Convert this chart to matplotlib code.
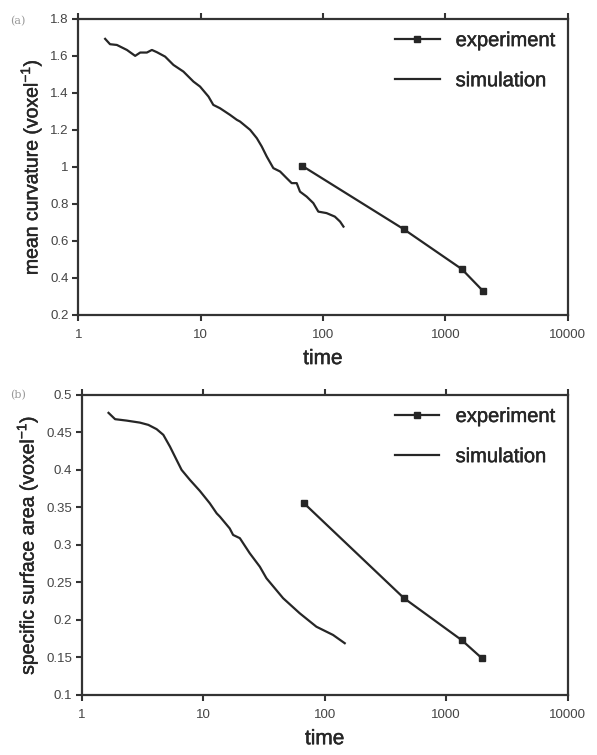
import matplotlib
matplotlib.use("Agg")
import matplotlib.pyplot as plt
import matplotlib.patheffects as pe
from matplotlib.ticker import FixedLocator, NullLocator

plt.rcParams['font.family'] = ['Liberation Sans', 'DejaVu Sans']

# (a) mean curvature
exp_t = [67, 457, 1364, 2023]
exp_curv = [1.007, 0.663, 0.447, 0.33]
sim_t_a = [1.66, 1.82, 2.07, 2.5, 2.92, 3.21, 3.64, 4.0, 4.39, 5.13, 6.0, 7.24, 8.74, 9.9,
           11.6, 12.7, 14.4, 17.4, 19.8, 21, 25.4, 28.8, 31.6, 34.7, 39.3, 44.6, 50.5, 55.5,
           61, 64.9, 73.6, 83.4, 91.6, 107, 125, 138, 147]
sim_curv = [1.692, 1.663, 1.659, 1.632, 1.60, 1.618, 1.618, 1.632, 1.62, 1.596, 1.551, 1.515,
            1.461, 1.434, 1.38, 1.335, 1.317, 1.281, 1.254, 1.245, 1.2, 1.155, 1.110, 1.056,
            0.993, 0.975, 0.939, 0.912, 0.912, 0.866, 0.839, 0.804, 0.758, 0.75, 0.731,
            0.704, 0.677]

# (b) specific surface area
exp_t_b = [67, 449, 1343, 1964]
exp_ssa = [0.356, 0.229, 0.173, 0.149]
sim_t_b = [1.66, 1.88, 2.34, 3.01, 3.53, 4.13, 4.69, 5.32, 6.03, 6.63, 7.76, 9.37, 11.3,
           12.9, 13.7, 16.5, 17.6, 20, 24.1, 29.2, 33.1, 45.4, 62.2, 85.3, 117, 146]
sim_ssa = [0.476, 0.4676, 0.4657, 0.463, 0.46, 0.4543, 0.4467, 0.431, 0.4133, 0.40, 0.3867,
           0.372, 0.3556, 0.342, 0.3377, 0.322, 0.3133, 0.309, 0.289, 0.271, 0.2556, 0.229,
           0.2089, 0.191, 0.18, 0.169]

x_ticks = [1, 10, 100, 1000, 10000]
x_labels = ['1', '10', '100', '1000', '10000']
y_ticks_a = [0.2, 0.4, 0.6, 0.8, 1.0, 1.2, 1.4, 1.6, 1.8]
y_labels_a = ['0.2', '0.4', '0.6', '0.8', '1', '1.2', '1.4', '1.6', '1.8']
y_ticks_b = [0.1, 0.15, 0.2, 0.25, 0.3, 0.35, 0.4, 0.45, 0.5]
y_labels_b = ['0.1', '0.15', '0.2', '0.25', '0.3', '0.35', '0.4', '0.45', '0.5']

ink = '#262626'
# slightly heavier text, the scan looks smudged
heavy = [pe.withStroke(linewidth=0.35, foreground=ink)]

fig = plt.figure(figsize=(5.97, 7.55), dpi=100)
ax_a = fig.add_axes([0.131, 0.583, 0.820, 0.392])
ax_b = fig.add_axes([0.137, 0.0795, 0.814, 0.3975])


def style(ax, yt, yl, ylab, ylim):
    ax.set_xscale('log')
    ax.set_xlim(1, 10000)
    ax.set_ylim(*ylim)
    ax.xaxis.set_major_locator(FixedLocator(x_ticks))
    ax.xaxis.set_minor_locator(NullLocator())
    ax.set_xticklabels(x_labels)
    ax.set_yticks(yt)
    ax.set_yticklabels(yl)
    for s in ax.spines.values():
        s.set_linewidth(1.6)
        s.set_color('#333333')
    ax.tick_params(axis='both', direction='out', length=4, width=1.5, color='#333333',
                   labelsize=9.5, labelcolor='#444444', pad=3)
    ax.tick_params(axis='x', top=True, labeltop=False, pad=6)
    xl = ax.set_xlabel('time', fontsize=15, color=ink, labelpad=6)
    yl_ = ax.set_ylabel(ylab, fontsize=14, color=ink, labelpad=4)
    xl.set_path_effects(heavy)
    yl_.set_path_effects(heavy)


ax_a.plot(exp_t, exp_curv, color=ink, lw=1.6, marker='s', ms=4.5, label='experiment')
ax_a.plot(sim_t_a, sim_curv, color=ink, lw=1.6, label='simulation')
style(ax_a, y_ticks_a, y_labels_a, 'mean curvature (voxel$^{\\mathregular{-1}}$)', (0.2, 1.8))

ax_b.plot(exp_t_b, exp_ssa, color=ink, lw=1.6, marker='s', ms=4.5, label='experiment')
ax_b.plot(sim_t_b, sim_ssa, color=ink, lw=1.6, label='simulation')
style(ax_b, y_ticks_b, y_labels_b, 'specific surface area (voxel$^{\\mathregular{-1}}$)', (0.1, 0.5))

for ax in (ax_a, ax_b):
    leg = ax.legend(loc='upper right', bbox_to_anchor=(1.012, 1.02), frameon=False, fontsize=14.5,
                    handlelength=2.2, handletextpad=0.8, labelspacing=1.05)
    for t in leg.get_texts():
        t.set_color(ink)
        t.set_path_effects(heavy)

fig.text(0.017, 0.972, '(a)', fontsize=8, color='#999999', family='DejaVu Serif', va='center')
fig.text(0.017, 0.477, '(b)', fontsize=8, color='#999999', family='DejaVu Serif', va='center')

fig.savefig('out.png', dpi=100)
